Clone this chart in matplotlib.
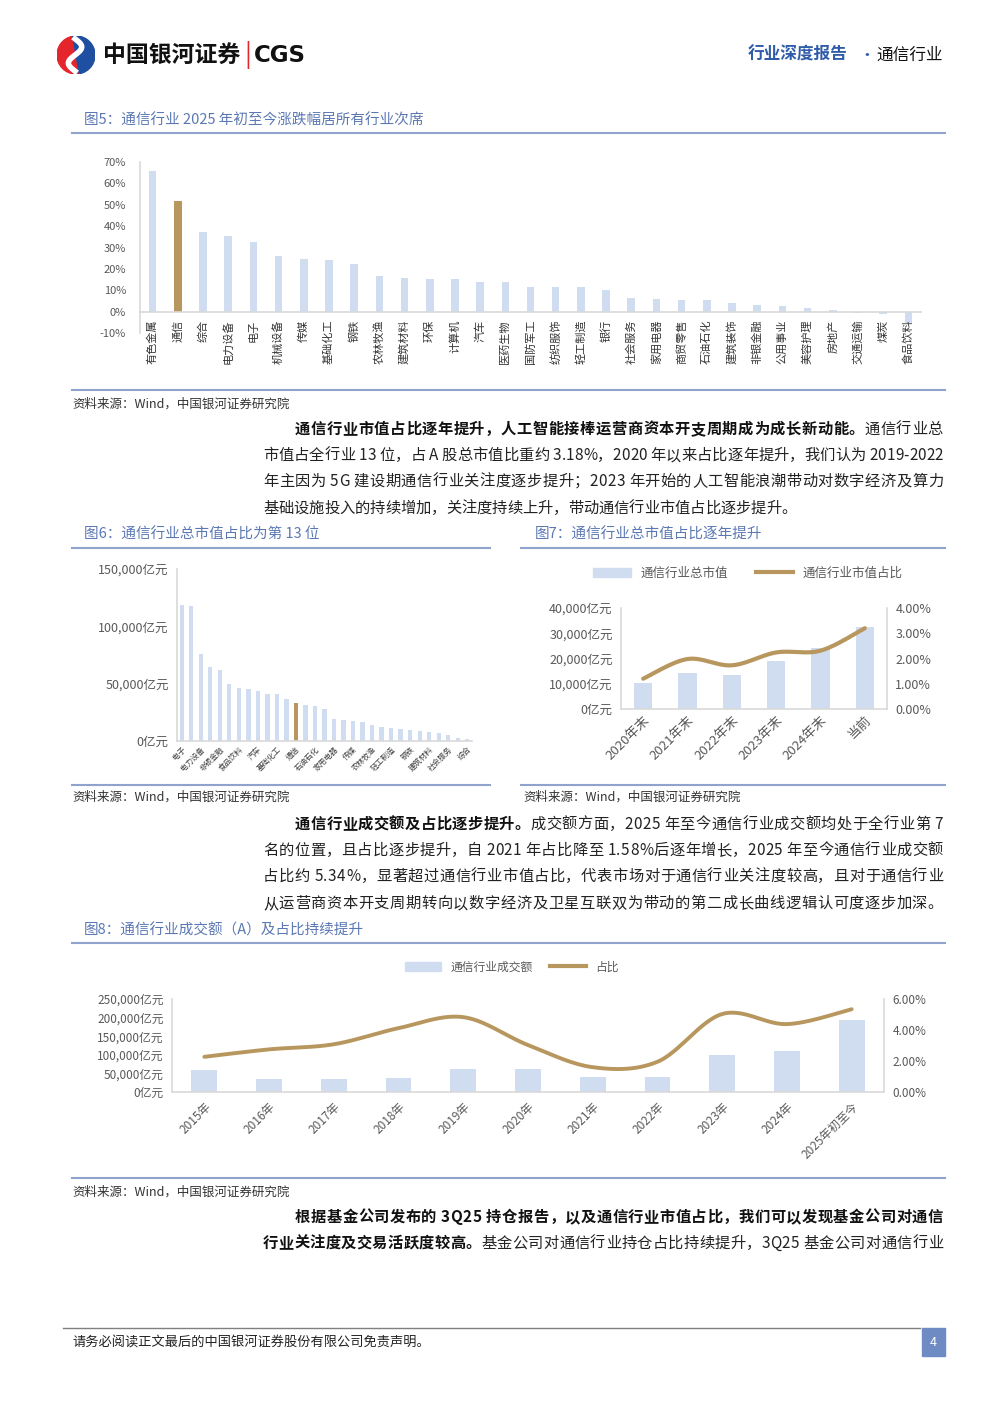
import numpy as np
import matplotlib
matplotlib.use("Agg")
import matplotlib.pyplot as plt
from matplotlib.patches import Rectangle, Wedge
from matplotlib.lines import Line2D
from matplotlib.ticker import FuncFormatter

plt.rcParams['font.family'] = ['Noto Sans CJK SC', 'DejaVu Sans']

# ---- data ----
# fig5: 2025 YTD return by industry
ret_names = ["有色金属", "通信", "综合", "电力设备", "电子", "机械设备", "传媒", "基础化工",
             "钢铁", "农林牧渔", "建筑材料", "环保", "计算机", "汽车", "医药生物", "国防军工",
             "纺织服饰", "轻工制造", "银行", "社会服务", "家用电器", "商贸零售", "石油石化",
             "建筑装饰", "非银金融", "公用事业", "美容护理", "房地产", "交通运输", "煤炭", "食品饮料"]
ret_vals = [0.660, 0.517, 0.374, 0.353, 0.328, 0.258, 0.244, 0.240, 0.224, 0.165, 0.156, 0.153,
            0.151, 0.140, 0.137, 0.115, 0.114, 0.114, 0.100, 0.062, 0.059, 0.054, 0.053, 0.039,
            0.030, 0.028, 0.017, 0.006, -0.007, -0.011, -0.051]

# fig6: total market value by industry (亿元)
mv_names = ["电子", "银行", "电力设备", "医药生物", "非银金融", "机械设备", "食品饮料", "有色金属",
            "汽车", "计算机", "基础化工", "公用事业", "通信", "交通运输", "石油石化", "国防军工",
            "家用电器", "建筑装饰", "传媒", "煤炭", "农林牧渔", "商贸零售", "轻工制造", "房地产",
            "钢铁", "环保", "建筑材料", "纺织服饰", "社会服务", "美容护理", "综合"]
mv_vals = [118800, 117900, 75900, 64500, 62200, 49600, 46400, 45200, 43200, 41100, 40900, 36200,
           33000, 31200, 30300, 27700, 19000, 18100, 17200, 16600, 14300, 12000, 11100, 10500,
           9900, 9000, 7900, 6700, 5000, 2900, 1500]

# fig7: telecom total market value and share
yr7 = ["2020年末", "2021年末", "2022年末", "2023年末", "2024年末", "当前"]
mv7 = [10400, 14100, 13300, 18900, 24200, 32600]
share7 = [0.0120, 0.0198, 0.0173, 0.0224, 0.0231, 0.0320]

# fig8: telecom turnover and share
yr8 = ["2015年", "2016年", "2017年", "2018年", "2019年", "2020年", "2021年", "2022年",
       "2023年", "2024年", "2025年初至今"]
amt8 = [58700, 34300, 34300, 37000, 61400, 61400, 39700, 39700, 98400, 110100, 194000]
share8 = [0.0227, 0.0275, 0.0308, 0.0412, 0.0483, 0.0303, 0.0160, 0.0195, 0.0503, 0.0438, 0.0534]

BAR = "#D0DCF0"
GOLD = "#B8975F"
TITLE = "#5B78B3"
RULE = "#8FA3CC"
TICK = "#595959"

W, H = 992, 1403
fig = plt.figure(figsize=(W / 100, H / 100), dpi=100)
renderer = fig.canvas.get_renderer()


def pax(l, t, r, b):
    return fig.add_axes([l / W, 1 - b / H, (r - l) / W, (b - t) / H])


def ftext(x, y, s, **kw):
    kw.setdefault("va", "center")
    return fig.text(x / W, 1 - y / H, s, **kw)


def hline(x1, x2, y, color=RULE, lw=1.5):
    fig.add_artist(Line2D([x1 / W, x2 / W], [1 - y / H, 1 - y / H], color=color, lw=lw))


def smooth(y, n=30):
    # catmull-rom through the points (like excel's smoothed line)
    p = np.column_stack([np.arange(len(y), dtype=float), y])
    p = np.vstack([p[0], p, p[-1]])
    t = np.linspace(0, 1, n)[:, None]
    segs = []
    for i in range(1, len(p) - 2):
        p0, p1, p2, p3 = p[i - 1], p[i], p[i + 1], p[i + 2]
        segs.append(0.5 * (2 * p1 + (-p0 + p2) * t + (2 * p0 - 5 * p1 + 4 * p2 - p3) * t ** 2
                           + (-p0 + 3 * p1 - 3 * p2 + p3) * t ** 3))
    s = np.vstack(segs)
    return s[:, 0], s[:, 1]


def clean(ax, sides=("left", "bottom")):
    for k, sp in ax.spines.items():
        sp.set_visible(k in sides)
        sp.set_color("#D9D9D9")
        sp.set_linewidth(1.2)
    ax.tick_params(length=0, colors=TICK)


yuan = FuncFormatter(lambda v, p: f"{int(v):,}亿元")

BODY = 11


def para_line(x0, x1, y, parts, justify=True, size=BODY):
    # lay out char by char so the line can be justified like the word doc
    chars = []
    for s, bold in parts:
        for c in s:
            chars.append((c, bold))
    widths = []
    for c, bold in chars:
        if c == " ":
            widths.append(size * 100 / 72 * 0.22)
            continue
        t = fig.text(0, 0, c, fontsize=size, fontweight="bold" if bold else "normal")
        widths.append(t.get_window_extent(renderer).width)
        t.remove()
    gap = (x1 - x0 - sum(widths)) / (len(chars) - 1) if justify else 0
    x = x0
    for (c, bold), w in zip(chars, widths):
        if c != " ":
            ftext(x, y, c, fontsize=size, fontweight="bold" if bold else "normal",
                  color="#111111" if bold else "#222222", va="baseline")
        x += w + gap


# ---- header ----
lg = pax(55, 36, 97, 74)
lg.set_xlim(-1, 1); lg.set_ylim(-1, 1); lg.set_aspect("equal"); lg.axis("off")
lg.add_patch(Wedge((0, 0), 1, 100, 280, color="#E4262C"))
lg.add_patch(Wedge((0, 0), 1, -80, 100, color="#1E4FA0"))
ss = np.linspace(-1, 1, 50)
lg.plot(0.35 * np.sin(ss * np.pi) - 0.05, ss * 0.85, color="white", lw=4)
ftext(103, 55, "中国银河证券", fontsize=16.5, fontweight="bold", color="#111111")
ftext(244, 55, "|", fontsize=18, color="#E4262C")
ftext(254, 55, "CGS", fontsize=16.5, fontweight="bold", color="#111111", family="DejaVu Sans")
ftext(748, 55, "行业深度报告", fontsize=12, fontweight="bold", color="#2F5BA8")
ftext(858, 55, "·", fontsize=12, color="#2F5BA8")
ftext(876, 55, "通信行业", fontsize=12, color="#111111")

# ---- fig5 ----
ftext(84, 121, "图5：通信行业 2025 年初至今涨跌幅居所有行业次席", fontsize=10.5, color=TITLE)
hline(72, 945, 133)
ax5 = pax(140, 162, 921, 333)
x5 = np.arange(len(ret_names))
ax5.bar(x5, ret_vals, width=0.3, color=[GOLD if n == "通信" else BAR for n in ret_names])
ax5.set_xlim(-0.5, len(ret_names) - 0.5)
ax5.set_ylim(-0.10, 0.70)
ax5.set_yticks(np.arange(-0.1, 0.71, 0.1))
ax5.yaxis.set_major_formatter(FuncFormatter(lambda v, p: f"{v * 100:.0f}%"))
clean(ax5)
ax5.spines["bottom"].set_position(("data", 0))
ax5.set_xticks(x5)
ax5.set_xticklabels(ret_names, rotation=90, fontsize=8, color="#333333", va="top")
ax5.tick_params(axis="y", labelsize=8, pad=10)
ax5.tick_params(axis="x", pad=6)
hline(72, 945, 390)
ftext(72, 404, "资料来源：Wind，中国银河证券研究院", fontsize=9, color="#333333")

# ---- paragraph 1 ----
para_line(295, 943, 434, [("通信行业市值占比逐年提升，人工智能接棒运营商资本开支周期成为成长新动能。", True),
                          ("通信行业总", False)])
para_line(263, 943, 460, [("市值占全行业 13 位，占 A 股总市值比重约 3.18%，2020 年以来占比逐年提升，我们认为 2019-2022", False)])
para_line(263, 943, 486, [("年主因为 5G 建设期通信行业关注度逐步提升；2023 年开始的人工智能浪潮带动对数字经济及算力", False)])
para_line(263, 943, 513, [("基础设施投入的持续增加，关注度持续上升，带动通信行业市值占比逐步提升。", False)], justify=False)

# ---- fig6 ----
ftext(84, 535, "图6：通信行业总市值占比为第 13 位", fontsize=10.5, color=TITLE)
hline(72, 490, 548)
ax6 = pax(177, 569, 472, 741)
x6 = np.arange(len(mv_names))
ax6.bar(x6, mv_vals, width=0.45, color=[GOLD if n == "通信" else BAR for n in mv_names])
ax6.set_xlim(-0.5, len(mv_names) - 0.5)
ax6.set_ylim(0, 150000)
ax6.set_yticks([0, 50000, 100000, 150000])
ax6.yaxis.set_major_formatter(yuan)
clean(ax6)
ax6.set_xticks(x6[::2])
ax6.set_xticklabels(mv_names[::2], rotation=45, ha="right", rotation_mode="anchor",
                    fontsize=5.5, color="#404040")
ax6.tick_params(axis="y", labelsize=9, pad=6)
ax6.tick_params(axis="x", pad=3)
hline(72, 490, 785)
ftext(72, 797, "资料来源：Wind，中国银河证券研究院", fontsize=9, color="#333333")

# ---- fig7 ----
ftext(535, 535, "图7：通信行业总市值占比逐年提升", fontsize=10.5, color=TITLE)
hline(521, 945, 548)
ax7 = pax(621, 608, 887, 709)
x7 = np.arange(len(yr7))
ax7.bar(x7, mv7, width=0.41, color=BAR)
ax7.set_xlim(-0.5, len(yr7) - 0.5)
ax7.set_ylim(0, 40000)
ax7.set_yticks(np.arange(0, 40001, 10000))
ax7.yaxis.set_major_formatter(yuan)
clean(ax7, ("left", "bottom", "right"))
ax7.set_xticks(x7)
ax7.set_xticklabels(yr7, rotation=45, ha="right", rotation_mode="anchor", fontsize=9.5)
ax7.tick_params(axis="y", labelsize=9, pad=6)
ax7r = ax7.twinx()
sx, sy = smooth(share7)
ax7r.plot(sx, sy, color=GOLD, lw=3, solid_capstyle="round")
ax7r.set_ylim(0, 0.04)
ax7r.set_yticks(np.arange(0, 0.0401, 0.01))
ax7r.yaxis.set_major_formatter(FuncFormatter(lambda v, p: f"{v * 100:.2f}%"))
clean(ax7r, ())
ax7r.tick_params(axis="y", labelsize=9, pad=6)
ax7.legend([Rectangle((0, 0), 1, 1, color=BAR), Line2D([], [], color=GOLD, lw=3)],
           ["通信行业总市值", "通信行业市值占比"], loc="center", ncol=2, frameon=False,
           bbox_to_anchor=(748 / W, 1 - 573 / H), bbox_transform=fig.transFigure,
           fontsize=9, handlelength=3, handleheight=0.7, columnspacing=2.2, labelcolor=TICK)
hline(521, 945, 785)
ftext(523, 797, "资料来源：Wind，中国银河证券研究院", fontsize=9, color="#333333")

# ---- paragraph 2 ----
para_line(295, 943, 829, [("通信行业成交额及占比逐步提升。", True),
                          ("成交额方面，2025 年至今通信行业成交额均处于全行业第 7", False)])
para_line(263, 943, 855, [("名的位置，且占比逐步提升，自 2021 年占比降至 1.58%后逐年增长，2025 年至今通信行业成交额", False)])
para_line(263, 943, 881, [("占比约 5.34%，显著超过通信行业市值占比，代表市场对于通信行业关注度较高，且对于通信行业", False)])
para_line(263, 943, 908, [("从运营商资本开支周期转向以数字经济及卫星互联双为带动的第二成长曲线逻辑认可度逐步加深。", False)])

# ---- fig8 ----
ftext(84, 930, "图8：通信行业成交额（A）及占比持续提升", fontsize=10.5, color=TITLE)
hline(72, 945, 943)
ax8 = pax(172, 999, 884, 1092)
x8 = np.arange(len(yr8))
ax8.bar(x8, amt8, width=0.4, color=BAR)
ax8.set_xlim(-0.5, len(yr8) - 0.5)
ax8.set_ylim(0, 250000)
ax8.set_yticks(np.arange(0, 250001, 50000))
ax8.yaxis.set_major_formatter(yuan)
clean(ax8, ("left", "bottom", "right"))
ax8.set_xticks(x8)
ax8.set_xticklabels(yr8, rotation=45, ha="right", rotation_mode="anchor", fontsize=8.5)
ax8.tick_params(axis="y", labelsize=8.5, pad=6)
ax8.tick_params(axis="x", pad=6)
ax8r = ax8.twinx()
sx, sy = smooth(share8)
ax8r.plot(sx, sy, color=GOLD, lw=2.8, solid_capstyle="round")
ax8r.set_ylim(0, 0.06)
ax8r.set_yticks([0, 0.02, 0.04, 0.06])
ax8r.yaxis.set_major_formatter(FuncFormatter(lambda v, p: f"{v * 100:.2f}%"))
clean(ax8r, ())
ax8r.tick_params(axis="y", labelsize=8.5, pad=6)
ax8.legend([Rectangle((0, 0), 1, 1, color=BAR), Line2D([], [], color=GOLD, lw=3)],
           ["通信行业成交额", "占比"], loc="center", ncol=2, frameon=False,
           bbox_to_anchor=(512 / W, 1 - 967 / H), bbox_transform=fig.transFigure,
           fontsize=8.5, handlelength=3, handleheight=0.7, columnspacing=1.5, labelcolor=TICK)
hline(72, 945, 1178)
ftext(72, 1192, "资料来源：Wind，中国银河证券研究院", fontsize=9, color="#333333")

# ---- paragraph 3 ----
para_line(295, 943, 1222, [("根据基金公司发布的 3Q25 持仓报告，以及通信行业市值占比，我们可以发现基金公司对通信", True)])
para_line(263, 943, 1248, [("行业关注度及交易活跃度较高。", True),
                           ("基金公司对通信行业持仓占比持续提升，3Q25 基金公司对通信行业", False)])

# ---- footer ----
hline(63, 920, 1328, color="#7F7F7F", lw=1)
ftext(72, 1343, "请务必阅读正文最后的中国银河证券股份有限公司免责声明。", fontsize=9.5, color="#222222")
fig.add_artist(Rectangle((922 / W, 1 - 1356 / H), 23 / W, 28 / H, transform=fig.transFigure,
                         color="#6E8BC4"))
ftext(933.5, 1342, "4", fontsize=9, color="white", ha="center")

fig.savefig("out.png", dpi=100)
